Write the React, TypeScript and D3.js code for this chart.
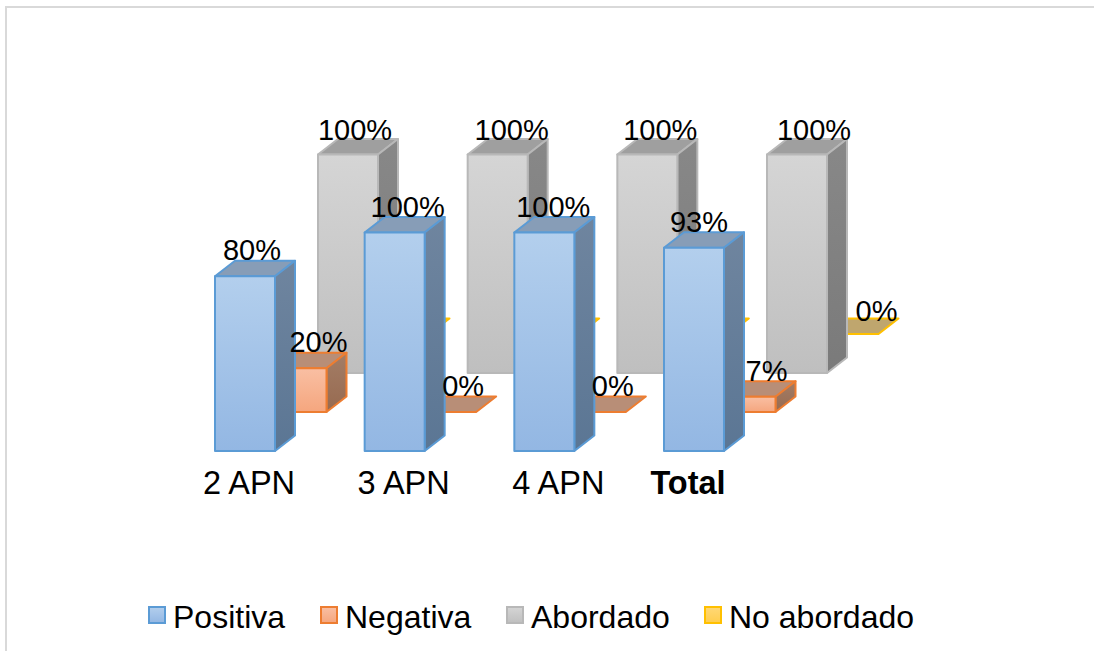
import React from "react";
import * as d3 from "d3";

const categories = ["2 APN", "3 APN", "4 APN", "Total"];
const seriesNames = ["Positiva", "Negativa", "Abordado", "No abordado"];
const positiva = [0.8, 1, 1, 0.93];
const negativa = [0.2, 0, 0, 0.07];
const abordado = [1, 1, 1, 1];
const noAbordado = [0, 0, 0, 0];
const seriesValues = [positiva, negativa, abordado, noAbordado];

const palette = [
  { stroke: "#5b9bd5", f0: "#b3cfed", f1: "#93b7e3", s0: "#6f859f", s1: "#5b7694", top: "#879db7" },
  { stroke: "#ed7d31", f0: "#f9bfa3", f1: "#f5a67e", s0: "#a37d66", s1: "#976a50", top: "#b88e77" },
  { stroke: "#b8b8b8", f0: "#d5d5d5", f1: "#bfbfbf", s0: "#888888", s1: "#7a7a7a", top: "#9f9f9f" },
  { stroke: "#ffc000", f0: "#ffd877", f1: "#ffcd4d", s0: "#a58c50", s1: "#987e40", top: "#bfa66e" },
];

// layout
const W = 1094, H = 651;
const barW = 60, depthX = 20, depthY = 15.5;
const x = d3.scaleLinear().domain([0, 3]).range([215, 664]);
const h = d3.scaleLinear().domain([0, 1]).range([0, 218.5]);
const rowOffsetX = d3.scaleLinear().domain([0, 3]).range([0, 154.5]);
const rowBase = d3.scaleLinear().domain([0, 3]).range([451, 334]);
const labelNudge = [
  [7, 13, 9, 5],
  [22, 17, 17, 21],
  [7, 14, 13, 17],
  [28, 28, 28, 28],
];
const labelLift = [16, 16, 15, 13];
// labels of the back row that sit behind the front bars are not visible
const labelHidden = [
  [false, false, false, false],
  [false, false, false, false],
  [false, false, false, false],
  [true, true, true, false],
];
const tickNudge = [4, 9, 14, -6];
const legendSwatchX = [149, 321, 507, 705];
const fmt = d3.format(".0%");

const poly = (pts: number[][]) => d3.line()(pts as [number, number][]) + "Z";

export default function App() {
  const order = [3, 2, 1, 0];
  return (
    <svg
      width={W}
      height={H}
      style={{ position: "absolute", left: 0, top: 0, background: "#fff", fontFamily: "'Liberation Sans', Arial, sans-serif" }}
    >
      <defs>
        {palette.map((p, i) => (
          <React.Fragment key={i}>
            <linearGradient id={`f${i}`} x1="0" y1="0" x2="0" y2="1">
              <stop offset="0" stopColor={p.f0} />
              <stop offset="1" stopColor={p.f1} />
            </linearGradient>
            <linearGradient id={`s${i}`} x1="0" y1="0" x2="0" y2="1">
              <stop offset="0" stopColor={p.s0} />
              <stop offset="1" stopColor={p.s1} />
            </linearGradient>
          </React.Fragment>
        ))}
      </defs>
      <path d="M6,651V7H1094" fill="none" stroke="#d9d9d9" strokeWidth={2} />
      {order.map((s) =>
        seriesValues[s].map((v, c) => {
          const p = palette[s];
          const x0 = x(c) + rowOffsetX(s);
          const x1 = x0 + barW;
          const yb = rowBase(s);
          const yt = yb - h(v);
          const common = { stroke: p.stroke, strokeWidth: 2, strokeLinejoin: "round" as const };
          return (
            <g key={`${s}-${c}`}>
              <path
                d={poly([[x0, yt], [x0 + depthX, yt - depthY], [x1 + depthX, yt - depthY], [x1, yt]])}
                fill={p.top}
                {...common}
              />
              {v > 0 && (
                <>
                  <path
                    d={poly([[x1, yt], [x1 + depthX, yt - depthY], [x1 + depthX, yb - depthY], [x1, yb]])}
                    fill={`url(#s${s})`}
                    {...common}
                  />
                  <rect x={x0} y={yt} width={barW} height={yb - yt} fill={`url(#f${s})`} {...common} />
                </>
              )}
            </g>
          );
        })
      )}
      {order.map((s) =>
        seriesValues[s].map((v, c) =>
          labelHidden[s][c] ? null : (
            <text
              key={`l${s}-${c}`}
              x={x(c) + rowOffsetX(s) + barW / 2 + labelNudge[s][c]}
              y={rowBase(s) - h(v) - labelLift[s]}
              textAnchor="middle"
              fontSize={29}
              fill="#000"
            >
              {fmt(v)}
            </text>
          )
        )
      )}
      {categories.map((t, c) => (
        <text
          key={t}
          x={x(c) + barW / 2 + tickNudge[c]}
          y={494}
          textAnchor="middle"
          fontSize={32.5}
          fontWeight={t === "Total" ? "bold" : "normal"}
          fill="#000"
        >
          {t}
        </text>
      ))}
      {seriesNames.map((t, s) => (
        <g key={t}>
          <rect
            x={legendSwatchX[s]}
            y={607}
            width={16}
            height={16}
            fill={`url(#f${s})`}
            stroke={palette[s].stroke}
            strokeWidth={2}
          />
          <text x={legendSwatchX[s] + 24} y={628} fontSize={32} fill="#000">
            {t}
          </text>
        </g>
      ))}
    </svg>
  );
}
